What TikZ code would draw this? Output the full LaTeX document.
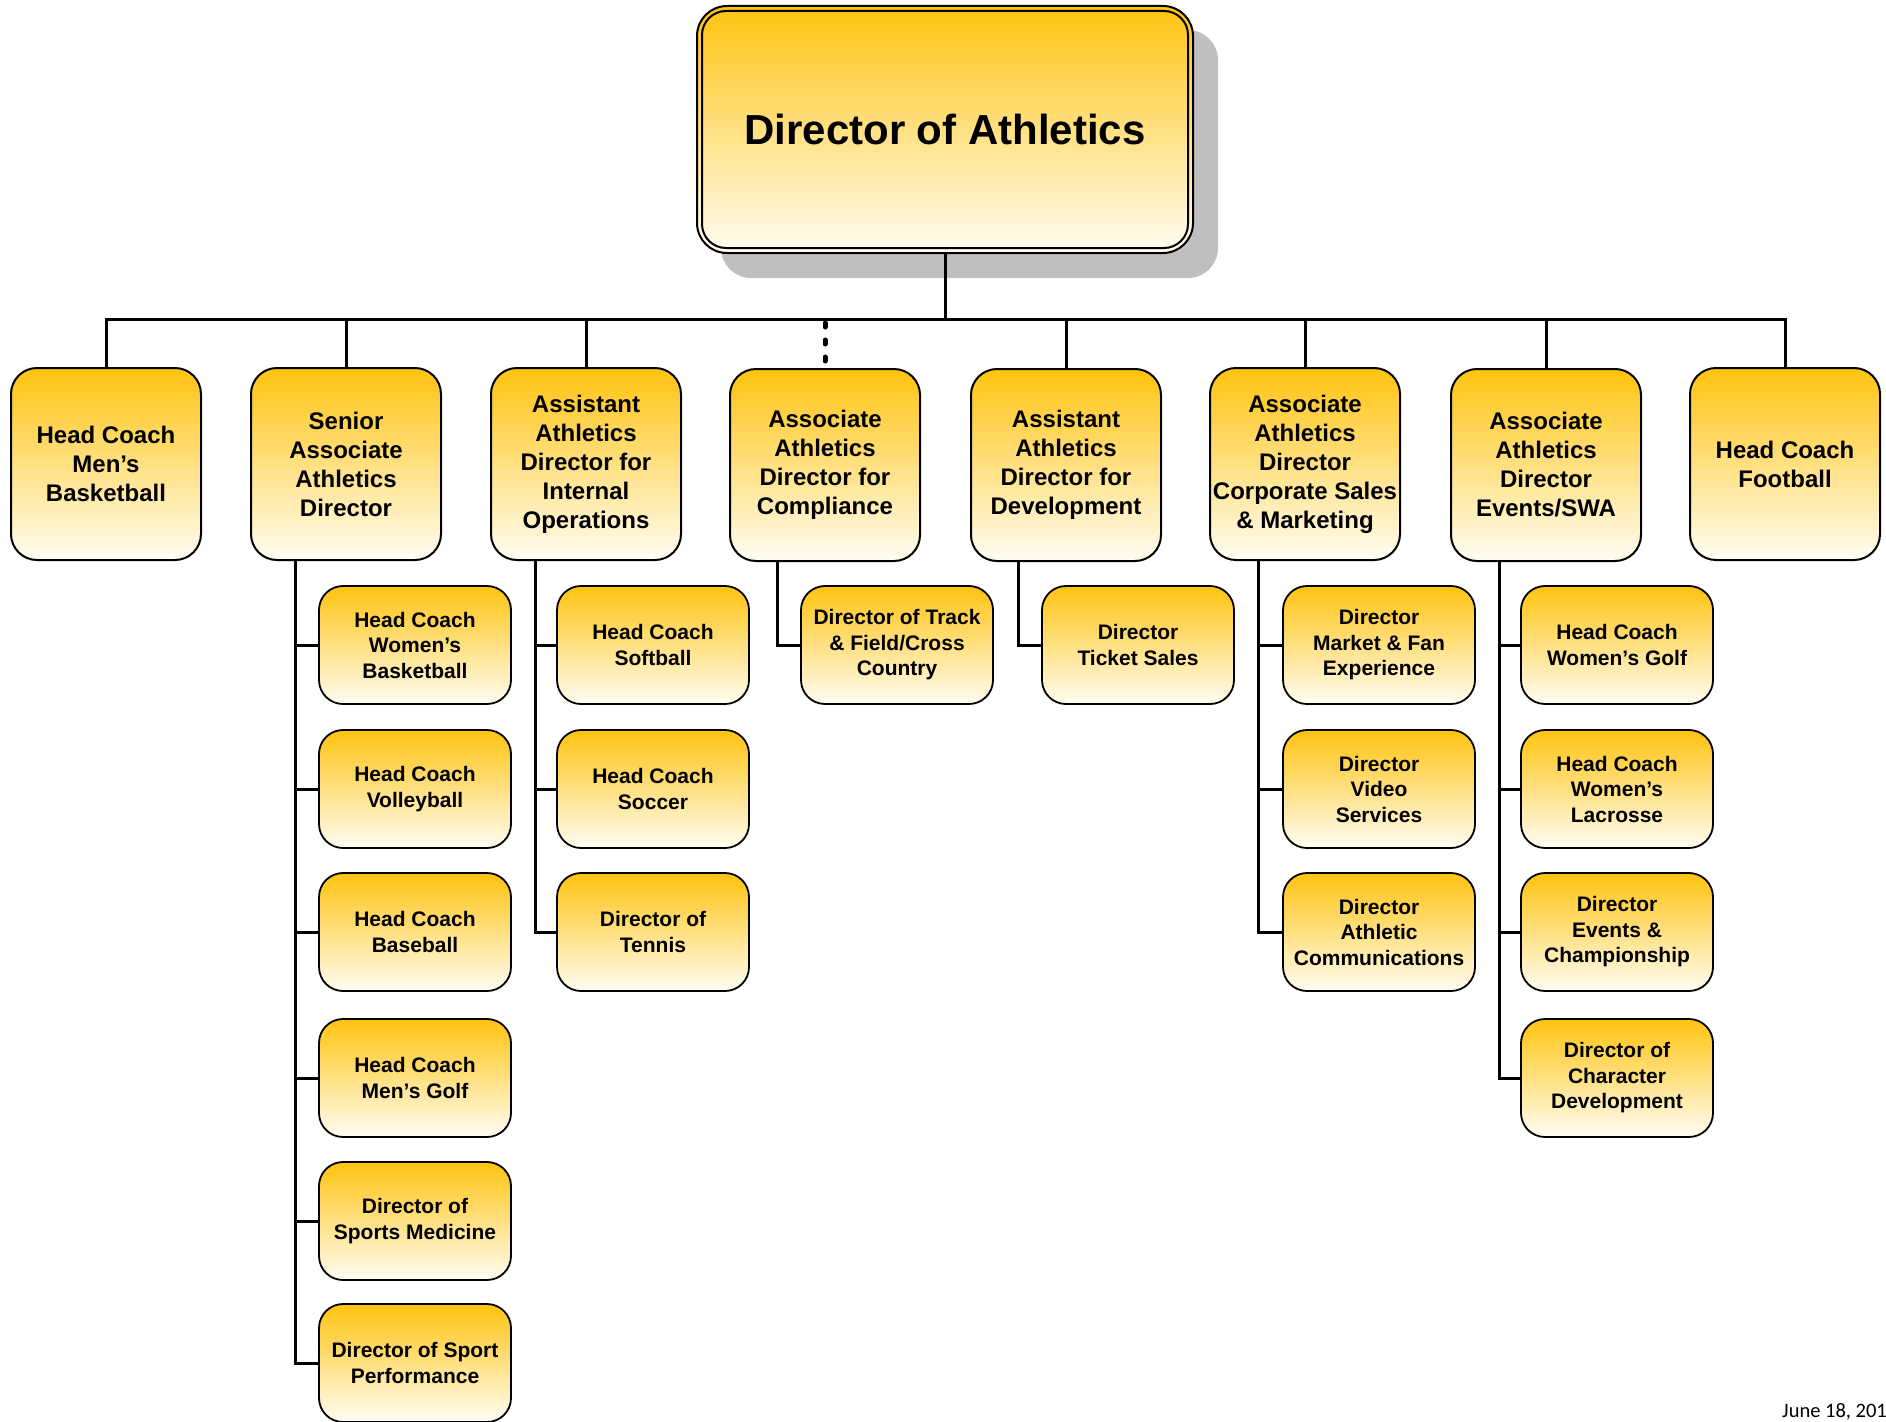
\documentclass[tikz,border=0pt]{standalone}
\usepackage{fontspec}
\setmainfont{Liberation Sans}
\newfontfamily\datefont{Carlito}
\definecolor{gTop}{HTML}{FFC30F}
\definecolor{gBot}{HTML}{FFFDF4}
\definecolor{shadowgray}{HTML}{BFBFBF}
\tikzset{
  toplvl/.style={draw, line width=2pt, rounded corners=26pt, top color=gTop, bottom color=gBot,
    minimum width=190pt, minimum height=192pt, inner sep=0pt, align=center,
    font=\fontsize{24}{29}\selectfont\bfseries},
  subbox/.style={draw, line width=1.8pt, rounded corners=24pt, top color=gTop, bottom color=gBot,
    minimum width=192pt, minimum height=118pt, inner sep=0pt, align=center,
    font=\fontsize{21}{25.5}\selectfont\bfseries},
  link/.style={line width=3pt},
  dotconn/.style={line width=5pt, line cap=round, dash pattern=on 4pt off 13pt}
}
\begin{document}
\begin{tikzpicture}[x=1pt,y=-1pt]
\useasboundingbox (0,0) rectangle (1886,1421);
% main box
\fill[shadowgray, rounded corners=30pt] (721,30) rectangle (1218,278);
\node[draw, line width=2pt, rounded corners=30pt, top color=gTop, bottom color=gBot,
  minimum width=496pt, minimum height=247pt, inner sep=0pt,
  font=\fontsize{42}{50}\selectfont\bfseries] (dir) at (945,129.5) {Director of Athletics};
\draw[line width=2pt, rounded corners=24pt] ([xshift=6pt,yshift=-6pt]dir.north west) rectangle ([xshift=-6pt,yshift=6pt]dir.south east);
% level 1
\node[toplvl] (m1) at (106,464) {Head Coach\\Men’s\\Basketball};
\node[toplvl] (m2) at (346,464) {Senior\\Associate\\Athletics\\Director};
\node[toplvl] (m3) at (586,464) {Assistant\\Athletics\\Director for\\Internal\\Operations};
\node[toplvl] (m4) at (825,465) {Associate\\Athletics\\Director for\\Compliance};
\node[toplvl] (m5) at (1066,465) {Assistant\\Athletics\\Director for\\Development};
\node[toplvl] (m6) at (1305,464) {Associate\\Athletics\\Director\\Corporate Sales\\\& Marketing};
\node[toplvl] (m7) at (1546,465) {Associate\\Athletics\\Director\\Events/SWA};
\node[toplvl] (m8) at (1785,464) {Head Coach\\Football};
% bus
\coordinate (bus) at (0,319);
\coordinate (bus4) at (825,323);
\draw[link] (dir.south) -- (dir.south |- bus);
\foreach \m in {m1,m2,m3,m5,m6,m7,m8}
  \draw[link] (dir.south |- bus) -| (\m.north);
\draw[dotconn] (bus4) -- (m4.north);
% sub boxes
\node[subbox] (a1) at (415,645) {Head Coach\\Women’s\\Basketball};
\node[subbox] (a2) at (415,789) {Head Coach\\Volleyball};
\node[subbox] (a3) at (415,932) {Head Coach\\Baseball};
\node[subbox] (a4) at (415,1078) {Head Coach\\Men’s Golf};
\node[subbox] (a5) at (415,1221) {Director of\\Sports Medicine};
\node[subbox] (a6) at (415,1363) {Director of Sport\\Performance};
\node[subbox] (b1) at (653,645) {Head Coach\\Softball};
\node[subbox] (b2) at (653,789) {Head Coach\\Soccer};
\node[subbox] (b3) at (653,932) {Director of\\Tennis};
\node[subbox] (c1) at (897,645) {Director of Track\\\& Field/Cross\\Country};
\node[subbox] (d1) at (1138,645) {Director\\Ticket Sales};
\node[subbox] (e1) at (1379,645) {Director\\Market \& Fan\\Experience};
\node[subbox] (e2) at (1379,789) {Director\\Video\\Services};
\node[subbox] (e3) at (1379,932) {Director\\Athletic\\Communications};
\node[subbox] (f1) at (1617,645) {Head Coach\\Women’s Golf};
\node[subbox] (f2) at (1617,789) {Head Coach\\Women’s\\Lacrosse};
\node[subbox] (f3) at (1617,932) {Director\\Events \&\\Championship};
\node[subbox] (f4) at (1617,1078) {Director of\\Character\\Development};
% sub connectors
\coordinate (ja) at (295,0);
\coordinate (jb) at (535,0);
\coordinate (jc) at (777,0);
\coordinate (jd) at (1018,0);
\coordinate (je) at (1258,0);
\coordinate (jf) at (1499,0);
\foreach \s in {a1,a2,a3,a4,a5,a6} \draw[link] (m2.south -| ja) |- (\s.west);
\foreach \s in {b1,b2,b3} \draw[link] (m3.south -| jb) |- (\s.west);
\draw[link] (m4.south -| jc) |- (c1.west);
\draw[link] (m5.south -| jd) |- (d1.west);
\foreach \s in {e1,e2,e3} \draw[link] (m6.south -| je) |- (\s.west);
\foreach \s in {f1,f2,f3,f4} \draw[link] (m7.south -| jf) |- (\s.west);
% date
\node[anchor=base west, inner sep=0pt, font=\datefont\fontsize{20.5}{24}\selectfont] (date) at (1782,1417) {June 18, 201};
\end{tikzpicture}
\end{document}
